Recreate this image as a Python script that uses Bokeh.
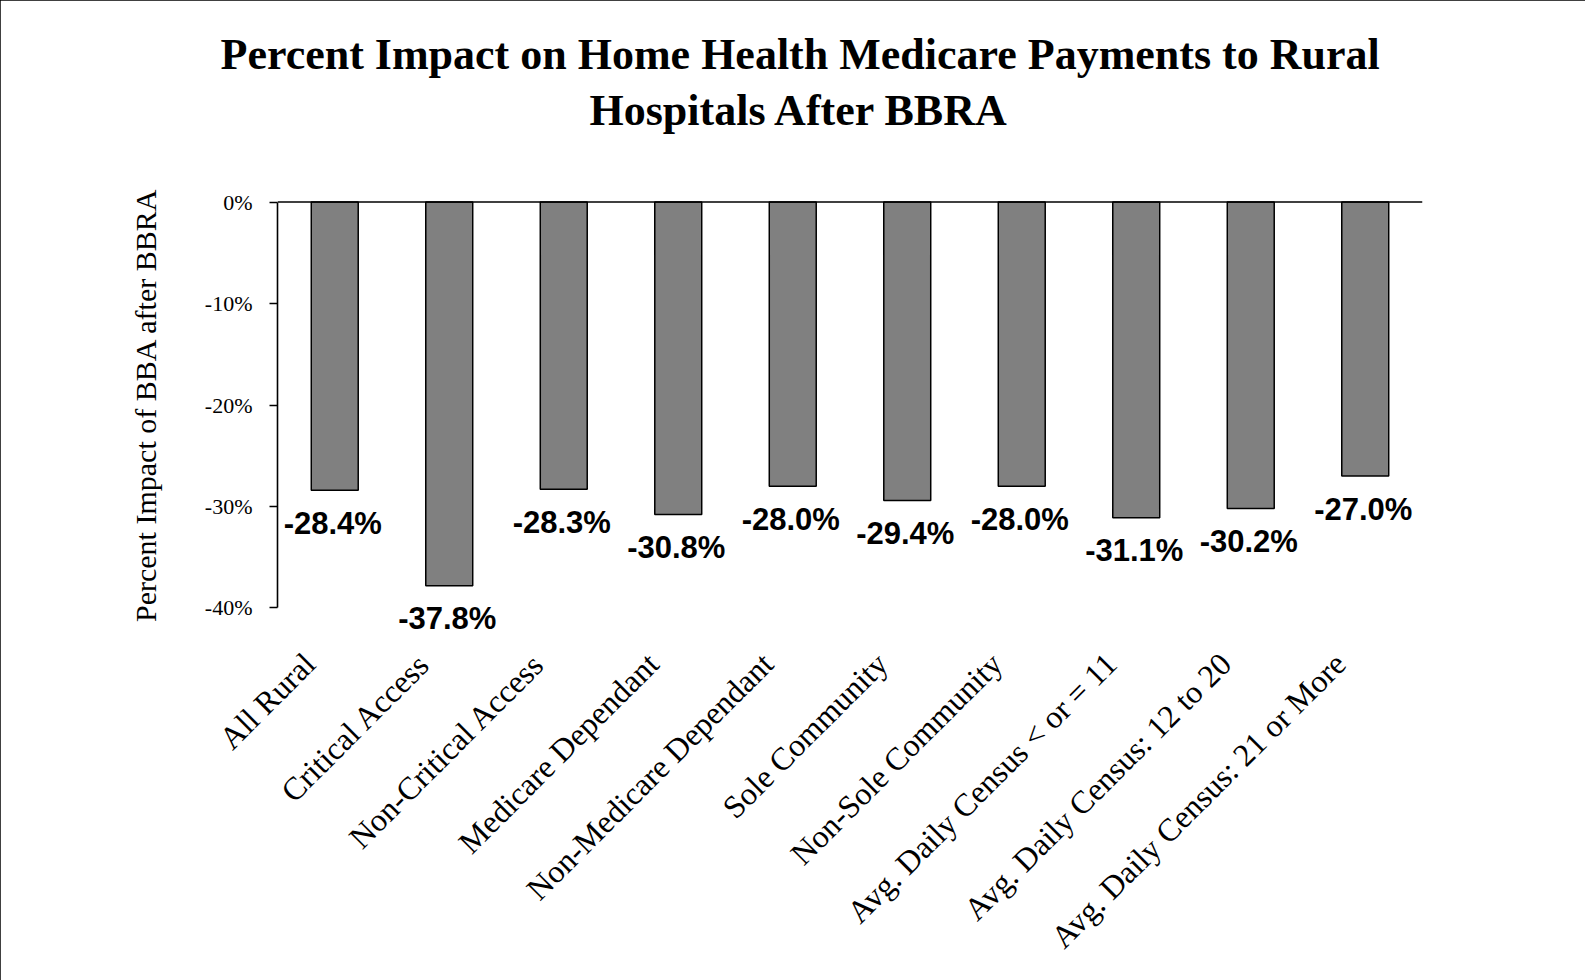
import math
from bokeh.plotting import figure
from bokeh.models import (Range1d, Span, Title, PrintfTickFormatter, FixedTicker,
                          ColumnDataSource, LabelSet, LinearAxis, CustomJSTickFormatter)
from bokeh.core.properties import value
from bokeh.embed import file_html
from bokeh.resources import INLINE

categories = [
    "All Rural",
    "Critical Access",
    "Non-Critical Access",
    "Medicare Dependant",
    "Non-Medicare Dependant",
    "Sole Community",
    "Non-Sole Community",
    "Avg. Daily Census < or = 11",
    "Avg. Daily Census: 12 to 20",
    "Avg. Daily Census: 21 or More",
]
impact = [-28.4, -37.8, -28.3, -30.8, -28.0, -29.4, -28.0, -31.1, -30.2, -27.0]
labels = ["%.1f%%" % v for v in impact]
y_ticks = [0, -10, -20, -30, -40]
axis_min, axis_max = -40, 0
pad = 3.6  # symmetric room so the lowest value label is not clipped
label_shift = 0.22  # category labels sit slightly left of their bars, as in the reference

title_line1 = "Percent Impact on Home Health Medicare Payments to Rural"
title_line2 = "Hospitals After BBRA"
y_title = "Percent Impact of BBA after BBRA"

n = len(categories)
slot = [i + 0.5 for i in range(n)]  # centre of each category slot
src = ColumnDataSource(dict(x=slot, cat=categories, val=impact, lab=labels))

p = figure(
    x_range=Range1d(0, n),
    y_range=Range1d(axis_min - pad, axis_max + pad),
    x_axis_location=None,
    frame_width=1145, frame_height=479,
    min_border_left=277, min_border_right=163,
    min_border_top=165, min_border_bottom=336,
    output_backend="svg", toolbar_location=None,
)
p.styles = {"outline": "2px solid black", "outline-offset": "-2px"}
p.background_fill_color = "white"
p.border_fill_color = "white"
p.outline_line_color = None
p.xgrid.grid_line_color = None
p.ygrid.grid_line_color = None

p.vbar(x="x", top=0, bottom="val", width=0.41, source=src,
       fill_color="#808080", line_color="black", line_width=1.5)

p.add_layout(Span(location=0, dimension="width", line_color="black", line_width=1.6))

# value labels under each bar
p.add_layout(LabelSet(x="x", y="val", text="lab", source=src,
                      text_font=value("Liberation Sans"), text_font_style="bold",
                      text_font_size="31px", text_align="center", text_baseline="middle",
                      text_color="black", x_offset=-2, y_offset=-33))

# y axis
p.yaxis.bounds = (axis_min, axis_max)
p.yaxis.ticker = FixedTicker(ticks=y_ticks)
p.yaxis.formatter = PrintfTickFormatter(format="%d%%")
p.yaxis.minor_tick_line_color = None
p.yaxis.major_tick_in = 0
p.yaxis.major_tick_out = 8
p.yaxis.major_label_standoff = 17
p.yaxis.major_label_text_font = "Liberation Serif"
p.yaxis.major_label_text_font_size = "22px"
p.yaxis.major_label_text_color = "black"
p.yaxis.axis_line_color = "black"
p.yaxis.axis_line_width = 1.6
p.yaxis.major_tick_line_color = "black"
p.yaxis.major_tick_line_width = 1.6
p.yaxis.axis_label = y_title
p.yaxis.axis_label_text_font = "Liberation Serif"
p.yaxis.axis_label_text_font_size = "30px"
p.yaxis.axis_label_text_font_style = "normal"
p.yaxis.axis_label_text_color = "black"
p.yaxis.axis_label_standoff = 40

# category axis: one tick per category slot, labelled with the category names
p.extra_x_ranges = {"labels": Range1d(label_shift, n + label_shift)}
xaxis = LinearAxis(
    x_range_name="labels",
    ticker=FixedTicker(ticks=slot, minor_ticks=[]),
    formatter=CustomJSTickFormatter(args=dict(names=categories),
                                    code="return names[Math.round(tick - 0.5)];"),
    axis_line_color=None, major_tick_line_color=None, minor_tick_line_color=None,
    major_tick_in=0, major_tick_out=0,
    major_label_orientation=math.pi / 4,
    major_label_text_font="Liberation Serif", major_label_text_font_size="32px",
    major_label_text_color="black", major_label_standoff=14,
)
p.add_layout(xaxis, "below")

# titles (later-added sits further from the frame)
p.add_layout(Title(text=" ", text_font_size="17px"), "above")
p.add_layout(Title(text=title_line2, align="left", offset=312, standoff=0,
                   text_font="Liberation Serif", text_font_style="bold",
                   text_font_size="44px", text_color="black"), "above")
p.add_layout(Title(text=title_line1, align="left", offset=-57,
                   text_font="Liberation Serif", text_font_style="bold",
                   text_font_size="44px", text_color="black"), "above")

open("out.html", "w").write(file_html(p, INLINE))
